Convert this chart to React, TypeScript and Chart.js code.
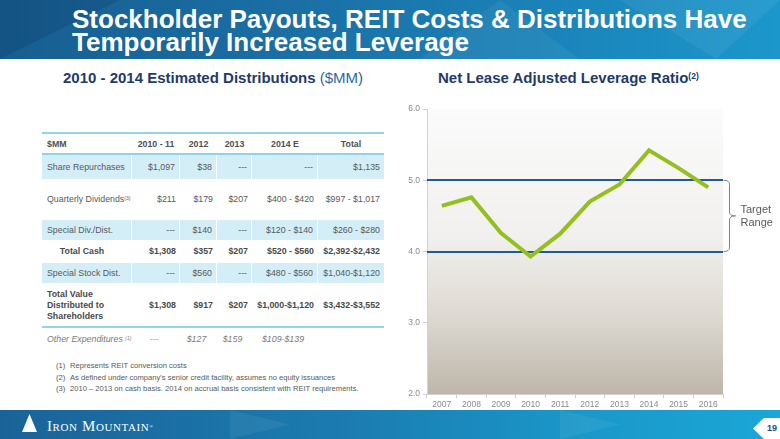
import React, { useEffect, useRef } from 'react';
import { Chart, registerables } from 'chart.js';

Chart.register(...registerables);

// ---------- Chart data ----------
const years = ['2007', '2008', '2009', '2010', '2011', '2012', '2013', '2014', '2015', '2016'];
const leverage = [4.64, 4.76, 4.26, 3.93, 4.25, 4.7, 4.94, 5.42, 5.17, 4.9];
const targetRange = [4.0, 5.0];
const yRange = [2, 6];
const targetLabel = ['Target', 'Range'];

// ---------- Table data ----------
const tableHeaders = ['$MM', '2010 - 11', '2012', '2013', '2014 E', 'Total'];
const shareRepurchases = ['$1,097', '$38', '---', '---', '$1,135'];
const quarterlyDividends = ['$211', '$179', '$207', '$400 - $420', '$997 - $1,017'];
const specialDividends = ['---', '$140', '---', '$120 - $140', '$260 - $280'];
const totalCash = ['$1,308', '$357', '$207', '$520 - $560', '$2,392-$2,432'];
const specialStock = ['---', '$560', '---', '$480 - $560', '$1,040-$1,120'];
const totalValue = ['$1,308', '$917', '$207', '$1,000-$1,120', '$3,432-$3,552'];
const otherExpenditures = ['---', '$127', '$159', '$109-$139', ''];
const footnotes = [
  'Represents REIT conversion costs',
  "As defined under company's senior credit facility, assumes no equity issuances",
  '2010 \u2013 2013 on cash basis. 2014 on accrual basis consistent with REIT requirements.',
];

const FONT = '"Liberation Sans", Arial, sans-serif';
const colEdges = [42, 132, 180, 217, 252, 318, 384];
const SHADE = '#d3eef7';
const TEXT = '#595959';

Chart.defaults.font.family = FONT;

const bgPlugin = {
  id: 'areaBg',
  beforeDraw(chart: any) {
    const { ctx, chartArea: a } = chart;
    const g = ctx.createLinearGradient(0, a.top, 0, a.bottom);
    g.addColorStop(0, '#fbfbfb');
    g.addColorStop(0.45, '#f1f0ee');
    g.addColorStop(0.72, '#dedad2');
    g.addColorStop(1, '#beb6aa');
    ctx.save();
    ctx.fillStyle = g;
    ctx.fillRect(a.left, a.top, a.right - a.left, a.bottom - a.top);
    ctx.restore();
  },
};

const rangePlugin = {
  id: 'targetRange',
  beforeDatasetsDraw(chart: any) {
    const { ctx, chartArea: a, scales } = chart;
    ctx.save();
    ctx.strokeStyle = '#1f5a9c';
    ctx.lineWidth = 2;
    targetRange.forEach((v) => {
      const y = Math.round(scales.y.getPixelForValue(v));
      ctx.beginPath();
      ctx.moveTo(a.left, y);
      ctx.lineTo(a.right, y);
      ctx.stroke();
    });
    ctx.restore();
  },
  afterDraw(chart: any) {
    const { ctx, chartArea: a, scales } = chart;
    const yTop = scales.y.getPixelForValue(Math.max(...targetRange));
    const yBot = scales.y.getPixelForValue(Math.min(...targetRange));
    const mid = (yTop + yBot) / 2;
    const x0 = a.right + 0.5;
    const xb = a.right + 6.5;
    ctx.save();
    ctx.strokeStyle = '#808080';
    ctx.lineWidth = 1;
    ctx.beginPath();
    ctx.moveTo(x0, yTop);
    ctx.quadraticCurveTo(xb, yTop, xb, yTop + 4);
    ctx.lineTo(xb, mid - 4);
    ctx.quadraticCurveTo(xb, mid, xb + 6, mid);
    ctx.quadraticCurveTo(xb, mid, xb, mid + 4);
    ctx.lineTo(xb, yBot - 4);
    ctx.quadraticCurveTo(xb, yBot, x0, yBot);
    ctx.stroke();
    ctx.fillStyle = TEXT;
    ctx.font = '11px ' + FONT;
    ctx.textAlign = 'left';
    ctx.textBaseline = 'middle';
    ctx.fillText(targetLabel[0], xb + 11, mid - 6);
    ctx.fillText(targetLabel[1], xb + 11, mid + 7);
    ctx.restore();
  },
};

function LeverageChart() {
  const ref = useRef<HTMLCanvasElement>(null);
  useEffect(() => {
    const chart = new Chart(ref.current as HTMLCanvasElement, {
      type: 'line',
      data: {
        labels: years,
        datasets: [
          {
            data: leverage,
            borderColor: '#93c01f',
            borderWidth: 4,
            pointRadius: 0,
            tension: 0,
            fill: false,
          },
        ],
      },
      options: {
        animation: false,
        responsive: false,
        devicePixelRatio: 1,
        layout: { padding: { top: 14, left: 0, right: 57, bottom: 8 } },
        plugins: { legend: { display: false }, tooltip: { enabled: false } },
        scales: {
          x: {
            offset: true,
            grid: { offset: true, drawOnChartArea: false, tickLength: 4, color: '#cccccc' },
            border: { color: '#d2d2d2' },
            ticks: { color: '#8a8a8a', font: { size: 8.5 }, padding: 2, autoSkip: false, maxRotation: 0 },
            afterFit: (s: any) => {
              s.height = 18;
            },
          },
          y: {
            min: yRange[0],
            max: yRange[1],
            grid: { drawOnChartArea: false, tickLength: 4, color: '#cccccc' },
            border: { color: '#d2d2d2' },
            ticks: {
              stepSize: 1,
              color: '#8a8a8a',
              font: { size: 8.5 },
              padding: 3,
              callback: (v: any) => Number(v).toFixed(1),
            },
            afterFit: (s: any) => {
              s.width = 37;
            },
          },
        },
      },
      plugins: [bgPlugin, rangePlugin],
    } as any);
    return () => chart.destroy();
  }, []);
  return (
    <canvas
      ref={ref}
      width={390}
      height={325}
      style={{ position: 'absolute', left: 390, top: 95, width: 390, height: 325 }}
    />
  );
}

type RowProps = {
  top: number;
  h: number;
  label: React.ReactNode;
  values: string[];
  shaded?: boolean;
  bold?: boolean;
  italic?: boolean;
  center?: boolean;
  labelCenter?: boolean;
  color?: string;
};

function Row({ top, h, label, values, shaded, bold, italic, center, labelCenter, color }: RowProps) {
  const cells = [label, ...values];
  return (
    <>
      {cells.map((c, i) => {
        const left = colEdges[i];
        const width = colEdges[i + 1] - left - (i < 5 && shaded ? 1 : 0);
        const justify = i === 0 ? (labelCenter ? 'center' : 'flex-start') : center ? 'center' : 'flex-end';
        return (
          <div
            key={i}
            style={{
              position: 'absolute',
              left,
              top,
              width,
              height: h,
              background: shaded ? SHADE : 'transparent',
              display: 'flex',
              alignItems: 'center',
              justifyContent: justify,
              boxSizing: 'border-box',
              padding: i === 0 ? (labelCenter ? '0 10px 0 0' : '0 0 0 5px') : '0 4px 0 0',
              fontSize: 8.8,
              lineHeight: '11px',
              fontWeight: bold ? 700 : 400,
              fontStyle: italic ? 'italic' : 'normal',
              color: color || TEXT,
              whiteSpace: i === 0 ? 'normal' : 'nowrap',
            }}
          >
            {c}
          </div>
        );
      })}
    </>
  );
}

function DistTable() {
  return (
    <>
      <div style={{ position: 'absolute', left: 42, top: 132, width: 342, height: 1.5, background: '#92d5ea' }} />
      {tableHeaders.map((t, i) => (
        <div
          key={i}
          style={{
            position: 'absolute',
            left: colEdges[i],
            top: 134,
            width: colEdges[i + 1] - colEdges[i],
            height: 20,
            display: 'flex',
            alignItems: 'center',
            justifyContent: i === 0 ? 'flex-start' : 'center',
            paddingLeft: i === 0 ? 5 : 0,
            boxSizing: 'border-box',
            fontSize: 8.8,
            fontWeight: 700,
            color: '#505050',
          }}
        >
          {t}
        </div>
      ))}
      <div style={{ position: 'absolute', left: 42, top: 153, width: 342, height: 2, background: '#8fd4ea' }} />
      <Row top={155} h={24} label="Share Repurchases" values={shareRepurchases} shaded />
      <Row
        top={179}
        h={41}
        label={
          <span>
            Quarterly Dividends<sup style={{ fontSize: 5, verticalAlign: 'top', position: 'relative', top: -1 }}>(3)</sup>
          </span>
        }
        values={quarterlyDividends}
      />
      <Row top={220} h={20} label="Special Div./Dist." values={specialDividends} shaded />
      <Row top={240} h={22} label="Total Cash" values={totalCash} bold labelCenter color="#4a4a4a" />
      <Row top={263} h={20} label="Special Stock Dist." values={specialStock} shaded />
      <Row
        top={283}
        h={44}
        label={
          <span>
            Total Value
            <br />
            Distributed to
            <br />
            Shareholders
          </span>
        }
        values={totalValue}
        bold
        color="#4a4a4a"
      />
      <div style={{ position: 'absolute', left: 42, top: 326, width: 342, height: 1.5, background: '#92d5ea' }} />
      <Row
        top={328}
        h={22}
        label={
          <span>
            Other Expenditures <sup style={{ fontSize: 5, verticalAlign: 'top', position: 'relative', top: -1 }}>(1)</sup>
          </span>
        }
        values={otherExpenditures}
        italic
        center
        color="#7a7a7a"
      />
      {footnotes.map((f, i) => (
        <div
          key={i}
          style={{
            position: 'absolute',
            left: 56,
            top: 360 + i * 11.5,
            height: 11,
            fontSize: 7.6,
            lineHeight: '11px',
            color: TEXT,
            whiteSpace: 'nowrap',
          }}
        >
          <span style={{ display: 'inline-block', width: 14 }}>({i + 1})</span>
          {f}
        </div>
      ))}
    </>
  );
}

function Banner() {
  return (
    <div
      style={{
        position: 'absolute',
        left: 0,
        top: 0,
        width: 780,
        height: 59,
        overflow: 'hidden',
        background: 'linear-gradient(90deg, #175e90 0%, #1a6ea3 35%, #1a83b9 70%, #1c97cb 100%)',
      }}
    >
      <div style={{ position: 'absolute', left: 0, top: 0, width: 120, height: 59, background: 'rgba(10,40,80,0.18)', clipPath: 'polygon(0 0, 100% 0, 0 100%)' }} />
      <div style={{ position: 'absolute', left: 420, top: 0, width: 160, height: 59, background: 'rgba(255,255,255,0.05)', clipPath: 'polygon(0 100%, 50% 0, 100% 100%)' }} />
      <div style={{ position: 'absolute', left: 620, top: 0, width: 160, height: 59, background: 'rgba(255,255,255,0.06)', clipPath: 'polygon(0 0, 100% 0, 60% 100%)' }} />
      <div
        style={{
          position: 'absolute',
          left: 72,
          top: 7.5,
          fontSize: 26,
          lineHeight: '23px',
          fontWeight: 700,
          color: '#ffffff',
          whiteSpace: 'nowrap',
          letterSpacing: 0,
        }}
      >
        Stockholder Payouts, REIT Costs &amp; Distributions Have
        <br />
        Temporarily Increased Leverage
      </div>
    </div>
  );
}

function Footer() {
  return (
    <div
      style={{
        position: 'absolute',
        left: 0,
        top: 410,
        width: 780,
        height: 29,
        overflow: 'hidden',
        background: 'linear-gradient(90deg, #1a6398 0%, #1b7cb1 45%, #1a98c9 75%, #1ba6d8 100%)',
      }}
    >
      <div style={{ position: 'absolute', left: 230, top: 0, width: 60, height: 29, background: 'rgba(255,255,255,0.06)', clipPath: 'polygon(0 0, 100% 50%, 0 100%)' }} />
      <div style={{ position: 'absolute', left: 560, top: 0, width: 60, height: 29, background: 'rgba(255,255,255,0.06)', clipPath: 'polygon(0 0, 100% 50%, 0 100%)' }} />
      <div style={{ position: 'absolute', left: 22, top: 4, width: 15, height: 18, background: '#ffffff', clipPath: 'polygon(50% 0, 100% 100%, 0 100%)' }} />
      <div
        style={{
          position: 'absolute',
          left: 47,
          top: 9,
          fontFamily: '"Liberation Serif", "Times New Roman", serif',
          fontSize: 15,
          lineHeight: '15px',
          fontVariant: 'small-caps',
          letterSpacing: 0.6,
          color: '#ffffff',
          whiteSpace: 'nowrap',
        }}
      >
        Iron Mountain<sup style={{ fontSize: 5, verticalAlign: 'top' }}>®</sup>
      </div>
      <div
        style={{
          position: 'absolute',
          left: 753,
          top: 8,
          width: 27,
          height: 21,
          background: '#ffffff',
          clipPath: 'polygon(0 50%, 40% 0, 100% 0, 100% 100%, 40% 100%)',
        }}
      />
      <div
        style={{
          position: 'absolute',
          left: 766,
          top: 12,
          width: 12,
          fontSize: 9,
          lineHeight: '12px',
          fontWeight: 700,
          color: '#1f4e79',
          textAlign: 'center',
        }}
      >
        19
      </div>
    </div>
  );
}

export default function App() {
  return (
    <div
      style={{
        position: 'fixed',
        left: 0,
        top: 0,
        width: 780,
        height: 439,
        background: '#ffffff',
        overflow: 'hidden',
        fontFamily: FONT,
      }}
    >
      <Banner />
      <div
        style={{
          position: 'absolute',
          left: 42,
          top: 69,
          width: 342,
          textAlign: 'center',
          fontSize: 15,
          lineHeight: '18px',
          fontWeight: 700,
          color: '#1f3b68',
          whiteSpace: 'nowrap',
        }}
      >
        2010 - 2014 Estimated Distributions <span style={{ fontWeight: 400, color: '#2b68a6' }}>($MM)</span>
      </div>
      <div
        style={{
          position: 'absolute',
          left: 438,
          top: 69,
          fontSize: 15,
          lineHeight: '18px',
          fontWeight: 700,
          color: '#1f3b68',
          whiteSpace: 'nowrap',
        }}
      >
        Net Lease Adjusted Leverage Ratio
        <sup style={{ fontSize: 8.5, verticalAlign: 'top', position: 'relative', top: -2 }}>(2)</sup>
      </div>
      <DistTable />
      <LeverageChart />
      <Footer />
    </div>
  );
}
